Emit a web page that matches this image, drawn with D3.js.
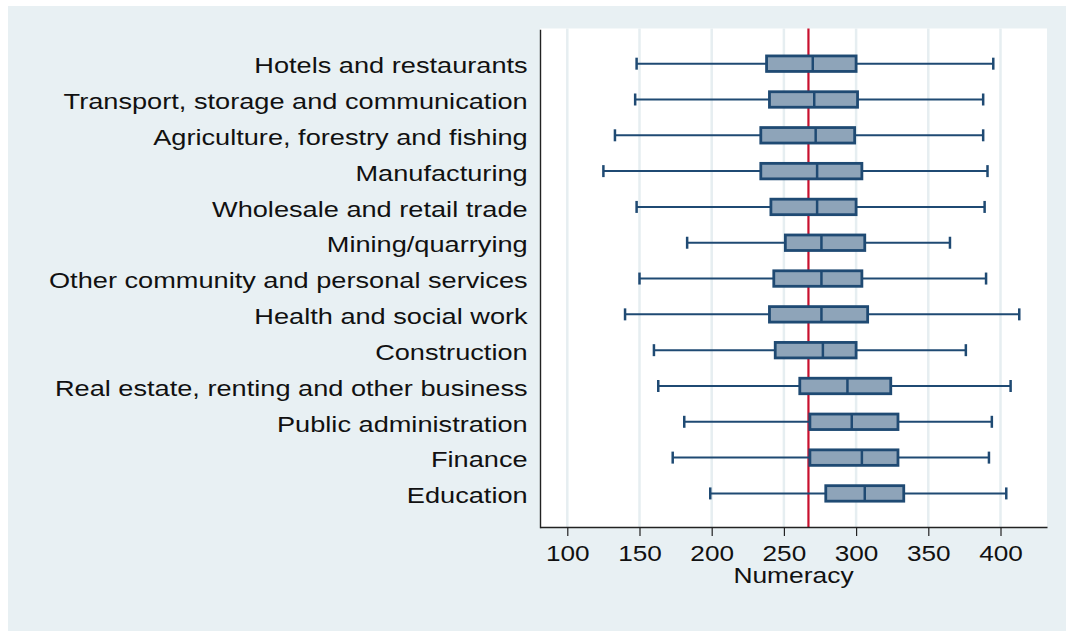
<!DOCTYPE html>
<html>
<head>
<meta charset="utf-8">
<script src="https://cdn.jsdelivr.net/npm/d3@7"></script>
<style>
  body { margin: 0; background: #ffffff; }
  text { font-family: "Liberation Sans", Arial, Helvetica, sans-serif; fill: #111; }
</style>
</head>
<body>
<svg id="svg_numeracy" width="1066" height="631"></svg>
<script>
// industries, top to bottom
const industries = [
  'Hotels and restaurants',
  'Transport, storage and communication',
  'Agriculture, forestry and fishing',
  'Manufacturing',
  'Wholesale and retail trade',
  'Mining/quarrying',
  'Other community and personal services',
  'Health and social work',
  'Construction',
  'Real estate, renting and other business',
  'Public administration',
  'Finance',
  'Education'
]
const lowerWhisker = [148, 147, 133, 125, 148, 183, 150, 140, 160, 163, 181, 173, 199]
const q1 = [238, 240, 234, 234, 241, 251, 243, 240, 244, 261, 268, 268, 279]
const medians = [270, 271, 272, 273, 273, 276, 276, 276, 277, 294, 297, 304, 306]
const q3 = [300, 301, 299, 304, 300, 306, 304, 308, 300, 324, 329, 329, 333]
const upperWhisker = [395, 388, 388, 391, 389, 365, 390, 413, 376, 407, 394, 392, 404]
const xTicks = [100, 150, 200, 250, 300, 350, 400]
const refLine = 267

const rows = industries.map((name, i) => ({
  name: name,
  lo: lowerWhisker[i],
  q1: q1[i],
  med: medians[i],
  q3: q3[i],
  hi: upperWhisker[i]
}))

const svg = d3.select('#svg_numeracy')

const plot = { left: 540, right: 1047, top: 28.5, bottom: 527 }
const stretch = 1.235 // text in the picture is a bit wider than normal

const xScale = d3.scaleLinear()
  .domain([81.1, 432.2])
  .range([plot.left, plot.right])

const yScale = d3.scalePoint()
  .domain(industries)
  .range([plot.top + 0.8, plot.bottom + 0.8])
  .padding(0.96)

// backgrounds
svg.append('rect')
  .attr('x', 8).attr('y', 6)
  .attr('width', 1058).attr('height', 625)
  .attr('fill', '#e8f0f3')

svg.append('rect')
  .attr('x', plot.left).attr('y', plot.top)
  .attr('width', plot.right - plot.left).attr('height', plot.bottom - plot.top)
  .attr('fill', '#ffffff')

// vertical gridlines
svg.append('g')
  .selectAll('line')
  .data(xTicks)
  .enter()
  .append('line')
  .attr('x1', d => xScale(d)).attr('x2', d => xScale(d))
  .attr('y1', plot.top).attr('y2', plot.bottom)
  .attr('stroke', '#e6eef1')
  .attr('stroke-width', 2.5)

// reference line
svg.append('line')
  .attr('x1', xScale(refLine)).attr('x2', xScale(refLine))
  .attr('y1', plot.top).attr('y2', plot.bottom)
  .attr('stroke', '#c8102e')
  .attr('stroke-width', 2.2)

const navy = '#1f4a73'
const boxH = 15.5
const capH = 12

const boxes = svg.append('g')
  .selectAll('g')
  .data(rows)
  .enter()
  .append('g')
  .attr('transform', d => `translate(0, ${yScale(d.name)})`)

boxes.append('line')
  .attr('x1', d => xScale(d.lo)).attr('x2', d => xScale(d.q1))
  .attr('stroke', navy).attr('stroke-width', 2)
boxes.append('line')
  .attr('x1', d => xScale(d.q3)).attr('x2', d => xScale(d.hi))
  .attr('stroke', navy).attr('stroke-width', 2)

boxes.append('line')
  .attr('x1', d => xScale(d.lo)).attr('x2', d => xScale(d.lo))
  .attr('y1', -capH / 2).attr('y2', capH / 2)
  .attr('stroke', navy).attr('stroke-width', 2.5)
boxes.append('line')
  .attr('x1', d => xScale(d.hi)).attr('x2', d => xScale(d.hi))
  .attr('y1', -capH / 2).attr('y2', capH / 2)
  .attr('stroke', navy).attr('stroke-width', 2.5)

boxes.append('rect')
  .attr('x', d => xScale(d.q1))
  .attr('y', -boxH / 2)
  .attr('width', d => xScale(d.q3) - xScale(d.q1))
  .attr('height', boxH)
  .attr('fill', '#8ea4b9')
  .attr('stroke', navy)
  .attr('stroke-width', 2.8)

boxes.append('line')
  .attr('x1', d => xScale(d.med)).attr('x2', d => xScale(d.med))
  .attr('y1', -boxH / 2).attr('y2', boxH / 2)
  .attr('stroke', navy).attr('stroke-width', 2.5)

// axes
const bottomAxis = d3.axisBottom(xScale)
  .tickValues(xTicks)
  .tickSize(9)
  .tickSizeOuter(0)
  .tickPadding(9.5)

const xAxisG = svg.append('g')
  .attr('transform', `translate(0, ${plot.bottom})`)
  .call(bottomAxis)
xAxisG.select('.domain').attr('stroke', '#222').attr('stroke-width', 1.4)
xAxisG.selectAll('.tick line').attr('stroke', '#222').attr('stroke-width', 1.2)
xAxisG.selectAll('.tick text')
  .attr('font-size', 22)
  .attr('font-family', '"Liberation Sans", Arial, sans-serif')
  .attr('fill', '#111')
  .attr('transform', `scale(1.19, 1)`)

const leftAxis = d3.axisLeft(yScale)
  .tickSize(0)
  .tickPadding(10)

const yAxisG = svg.append('g')
  .attr('transform', `translate(${plot.left}, 0)`)
  .call(leftAxis)
yAxisG.select('.domain').attr('stroke', '#222').attr('stroke-width', 1.4)
yAxisG.selectAll('.tick text')
  .attr('font-size', 22)
  .attr('font-family', '"Liberation Sans", Arial, sans-serif')
  .attr('fill', '#111')
  .attr('dy', '0.42em')
  .attr('transform', `scale(${stretch}, 1)`)

svg.append('text')
  .text('Numeracy')
  .attr('transform', `translate(${(plot.left + plot.right) / 2}, 582.5) scale(1.2, 1)`)
  .attr('text-anchor', 'middle')
  .attr('font-size', 22)
</script>
</body>
</html>
